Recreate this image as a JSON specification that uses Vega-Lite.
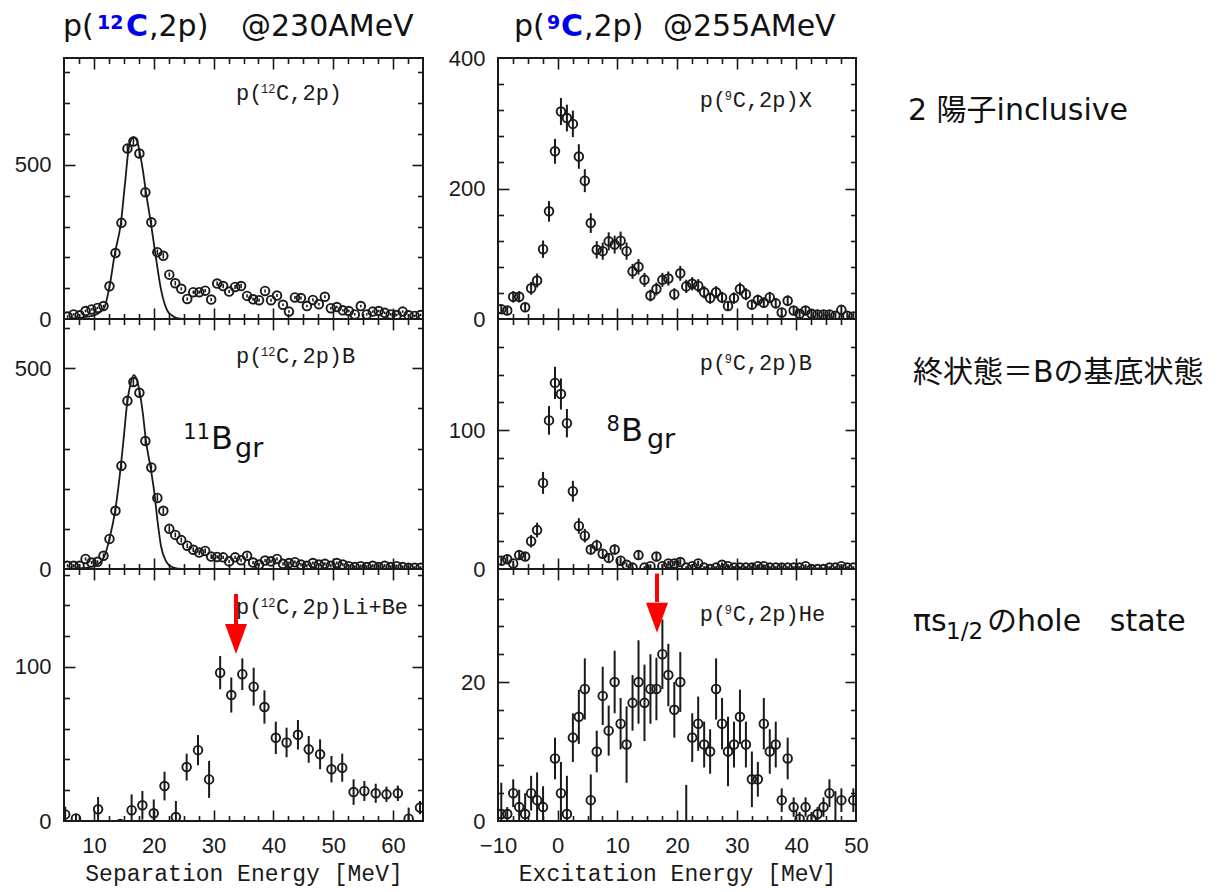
{
  "$schema": "https://vega.github.io/schema/vega-lite/v6.json",
  "background": "white",
  "padding": {"left": 13, "top": 11, "right": 5, "bottom": 5},
  "config": {
    "view": {"stroke": "#1a1a1a", "strokeWidth": 2},
    "axis": {"grid": false, "domain": false, "tickColor": "#1a1a1a", "tickWidth": 1.6, "labelColor": "#1a1a1a", "labelFont": "Liberation Sans", "labelFontSize": 22, "titleColor": "#1a1a1a"}
  },
  "datasets": {
    "tl": [
      {"e":5.6,"c":8,"err":4},{"e":6.6,"c":15,"err":4},{"e":7.6,"c":12,"err":4},{"e":8.6,"c":26,"err":4},{"e":9.6,"c":31,"err":4},
      {"e":10.6,"c":36,"err":4},{"e":11.6,"c":42,"err":4},{"e":12.6,"c":106,"err":7},{"e":13.6,"c":214,"err":9},{"e":14.6,"c":312,"err":9},
      {"e":15.6,"c":553,"err":12},{"e":16.6,"c":576,"err":12},{"e":17.6,"c":537,"err":12},{"e":18.6,"c":411,"err":12},{"e":19.6,"c":314,"err":9},
      {"e":20.6,"c":217,"err":9},{"e":21.6,"c":205,"err":9},{"e":22.6,"c":144,"err":7},{"e":23.6,"c":116,"err":7},{"e":24.6,"c":98,"err":5},
      {"e":25.6,"c":65,"err":5},{"e":26.6,"c":87,"err":5},{"e":27.6,"c":87,"err":5},{"e":28.6,"c":92,"err":5},{"e":29.6,"c":63,"err":5},
      {"e":30.6,"c":115,"err":7},{"e":31.6,"c":107,"err":7},{"e":32.6,"c":89,"err":5},{"e":33.6,"c":104,"err":7},{"e":34.6,"c":107,"err":7},
      {"e":35.6,"c":75,"err":5},{"e":36.6,"c":64,"err":5},{"e":37.6,"c":61,"err":5},{"e":38.6,"c":91,"err":5},{"e":39.6,"c":61,"err":5},
      {"e":40.6,"c":76,"err":5},{"e":41.6,"c":46,"err":4},{"e":42.6,"c":24,"err":4},{"e":43.6,"c":70,"err":5},{"e":44.6,"c":68,"err":5},
      {"e":45.6,"c":42,"err":4},{"e":46.6,"c":62,"err":5},{"e":47.6,"c":48,"err":4},{"e":48.6,"c":72,"err":5},{"e":49.6,"c":35,"err":4},
      {"e":50.6,"c":39,"err":4},{"e":51.6,"c":28,"err":4},{"e":52.6,"c":26,"err":4},{"e":53.6,"c":15,"err":4},{"e":54.6,"c":42,"err":4},
      {"e":55.6,"c":15,"err":4},{"e":56.6,"c":24,"err":4},{"e":57.6,"c":26,"err":4},{"e":58.6,"c":20,"err":4},{"e":59.6,"c":15,"err":4},
      {"e":60.6,"c":13,"err":4},{"e":61.6,"c":24,"err":4},{"e":62.6,"c":12,"err":4},{"e":63.6,"c":10,"err":4},{"e":64.6,"c":13,"err":4}
    ],
    "tlfit": [
      {"e":5,"c":0},{"e":7,"c":3},{"e":9,"c":8},{"e":10,"c":12},{"e":11,"c":22},{"e":11.75,"c":37},{"e":12.6,"c":105},
      {"e":13.5,"c":213},{"e":14.5,"c":310},{"e":15.2,"c":440},{"e":15.9,"c":563},{"e":16.65,"c":590},{"e":17.2,"c":578},
      {"e":17.6,"c":547},{"e":18.2,"c":480},{"e":18.7,"c":411},{"e":19.5,"c":314},{"e":20.4,"c":194},{"e":21.2,"c":97},
      {"e":21.8,"c":50},{"e":22.3,"c":26},{"e":23,"c":12},{"e":23.7,"c":4},{"e":25,"c":0.5},{"e":27,"c":0}
    ],
    "ml": [
      {"e":5.6,"c":8,"err":4},{"e":6.6,"c":8,"err":4},{"e":7.6,"c":8,"err":4},{"e":8.6,"c":25,"err":4},{"e":9.6,"c":16,"err":4},
      {"e":10.6,"c":18,"err":4},{"e":11.6,"c":33,"err":6},{"e":12.6,"c":75,"err":6},{"e":13.6,"c":145,"err":8},{"e":14.6,"c":257,"err":8},
      {"e":15.6,"c":419,"err":10},{"e":16.6,"c":466,"err":10},{"e":17.6,"c":439,"err":10},{"e":18.6,"c":319,"err":10},{"e":19.6,"c":253,"err":8},
      {"e":20.6,"c":177,"err":8},{"e":21.6,"c":145,"err":8},{"e":22.6,"c":100,"err":8},{"e":23.6,"c":85,"err":6},{"e":24.6,"c":72,"err":6},
      {"e":25.6,"c":58,"err":6},{"e":26.6,"c":48,"err":6},{"e":27.6,"c":41,"err":6},{"e":28.6,"c":45,"err":6},{"e":29.6,"c":31,"err":6},
      {"e":30.6,"c":30,"err":4},{"e":31.6,"c":29,"err":4},{"e":32.6,"c":19,"err":4},{"e":33.6,"c":29,"err":4},{"e":34.6,"c":22,"err":4},
      {"e":35.6,"c":33,"err":6},{"e":36.6,"c":16,"err":4},{"e":37.6,"c":11,"err":4},{"e":38.6,"c":21,"err":4},{"e":39.6,"c":19,"err":4},
      {"e":40.6,"c":25,"err":4},{"e":41.6,"c":13,"err":4},{"e":42.6,"c":15,"err":4},{"e":43.6,"c":17,"err":4},{"e":44.6,"c":11,"err":4},
      {"e":45.6,"c":8,"err":4},{"e":46.6,"c":15,"err":4},{"e":47.6,"c":11,"err":4},{"e":48.6,"c":13,"err":4},{"e":49.6,"c":8,"err":4},
      {"e":50.6,"c":15,"err":4},{"e":51.6,"c":11,"err":4},{"e":52.6,"c":7,"err":4},{"e":53.6,"c":5,"err":4},{"e":54.6,"c":7,"err":4},
      {"e":55.6,"c":5,"err":4},{"e":56.6,"c":8,"err":4},{"e":57.6,"c":5,"err":4},{"e":58.6,"c":8,"err":4},{"e":59.6,"c":5,"err":4},
      {"e":60.6,"c":7,"err":4},{"e":61.6,"c":5,"err":4},{"e":62.6,"c":3,"err":4},{"e":63.6,"c":3,"err":4},{"e":64.6,"c":3,"err":4}
    ],
    "mlfit": [
      {"e":5,"c":0},{"e":8,"c":2},{"e":10,"c":8},{"e":11,"c":16},{"e":11.7,"c":30},{"e":12.6,"c":75},{"e":13.6,"c":150},
      {"e":14.5,"c":257},{"e":15,"c":330},{"e":15.6,"c":419},{"e":16.1,"c":460},{"e":16.65,"c":483},{"e":17.2,"c":470},
      {"e":17.6,"c":445},{"e":18.2,"c":385},{"e":18.7,"c":319},{"e":19.5,"c":250},{"e":20.1,"c":190},{"e":20.66,"c":116},
      {"e":21.2,"c":58},{"e":22,"c":21},{"e":22.6,"c":9},{"e":23.2,"c":4},{"e":24,"c":1},{"e":26,"c":0}
    ],
    "bl": [
      {"e":5.2,"c":4.3,"err":5},{"e":7.0,"c":1.7,"err":3},{"e":10.7,"c":7.6,"err":8},{"e":14.4,"c":-2,"err":2},{"e":16.3,"c":7,"err":10.3},
      {"e":18.1,"c":10.2,"err":9.3},{"e":20.0,"c":5,"err":9},{"e":21.8,"c":22.7,"err":9.3},{"e":23.7,"c":2.6,"err":10.4},{"e":25.5,"c":35,"err":8.7},
      {"e":27.4,"c":46,"err":9.8},{"e":29.25,"c":27,"err":12},{"e":31.1,"c":96.3,"err":10.8},{"e":32.96,"c":81.8,"err":11.4},{"e":34.8,"c":95.3,"err":10.3},
      {"e":36.7,"c":87.2,"err":12.3},{"e":38.5,"c":74,"err":10.8},{"e":40.4,"c":54,"err":10.5},{"e":42.2,"c":51,"err":9.6},{"e":44.1,"c":56,"err":9.6},
      {"e":45.9,"c":46.5,"err":8.7},{"e":47.8,"c":43.3,"err":9.7},{"e":49.7,"c":33.6,"err":8.6},{"e":51.5,"c":34.6,"err":9.1},{"e":53.4,"c":18.8,"err":8.3},
      {"e":55.2,"c":19.5,"err":6.5},{"e":57.1,"c":18,"err":6.2},{"e":58.9,"c":17.3,"err":5},{"e":60.8,"c":18,"err":5},{"e":62.6,"c":1.5,"err":7.2},
      {"e":64.5,"c":8.7,"err":4.3}
    ],
    "tr": [
      {"e":-9.45,"c":15,"err":6.9},{"e":-8.45,"c":13,"err":6.6},{"e":-7.45,"c":34,"err":8.8},{"e":-6.45,"c":34,"err":8.8},{"e":-5.45,"c":18,"err":7.2},
      {"e":-4.45,"c":47,"err":9.9},{"e":-3.45,"c":59,"err":10.7},{"e":-2.45,"c":107,"err":13.3},{"e":-1.45,"c":165,"err":15.8},{"e":-0.45,"c":257,"err":19},
      {"e":0.55,"c":318,"err":20.8},{"e":1.55,"c":308,"err":20.5},{"e":2.55,"c":299,"err":20.3},{"e":3.55,"c":249,"err":18.8},{"e":4.55,"c":212,"err":17.6},
      {"e":5.55,"c":147,"err":15.1},{"e":6.55,"c":106,"err":13.3},{"e":7.55,"c":104,"err":13.2},{"e":8.55,"c":119,"err":13.9},{"e":9.55,"c":114,"err":13.7},
      {"e":10.55,"c":120,"err":14},{"e":11.55,"c":104,"err":13.2},{"e":12.55,"c":73,"err":11.5},{"e":13.55,"c":80,"err":11.9},{"e":14.55,"c":60,"err":10.7},
      {"e":15.55,"c":36,"err":9},{"e":16.55,"c":46,"err":9.8},{"e":17.55,"c":60,"err":10.7},{"e":18.55,"c":62,"err":10.9},{"e":19.55,"c":38,"err":9.2},
      {"e":20.55,"c":70,"err":11.4},{"e":21.55,"c":50,"err":10.1},{"e":22.55,"c":54,"err":10.3},{"e":23.55,"c":51,"err":10.1},{"e":24.55,"c":41,"err":9.4},
      {"e":25.55,"c":32,"err":8.7},{"e":26.55,"c":41,"err":9.4},{"e":27.55,"c":33,"err":8.7},{"e":28.55,"c":20,"err":7.5},{"e":29.55,"c":32,"err":8.7},
      {"e":30.55,"c":46,"err":9.8},{"e":31.55,"c":38,"err":9.2},{"e":32.55,"c":22,"err":7.7},{"e":33.55,"c":29,"err":8.4},{"e":34.55,"c":25,"err":8},
      {"e":35.55,"c":33,"err":8.7},{"e":36.55,"c":24,"err":7.9},{"e":37.55,"c":10,"err":6.2},{"e":38.55,"c":28,"err":8.3},{"e":39.55,"c":13,"err":6.6},
      {"e":40.55,"c":8,"err":5.8},{"e":41.55,"c":13,"err":6.6},{"e":42.55,"c":8,"err":5.8},{"e":43.55,"c":7,"err":5.6},{"e":44.55,"c":7,"err":5.6},
      {"e":45.55,"c":7,"err":5.6},{"e":46.55,"c":5,"err":5.2},{"e":47.55,"c":14,"err":6.7},{"e":48.55,"c":5,"err":5.2},{"e":49.55,"c":4,"err":5}
    ],
    "mr": [
      {"e":-9.45,"c":6,"err":2.4},{"e":-8.45,"c":7,"err":2.6},{"e":-7.45,"c":4,"err":2},{"e":-6.45,"c":10,"err":3.2},{"e":-5.45,"c":9,"err":3},
      {"e":-4.45,"c":20,"err":4.5},{"e":-3.45,"c":28,"err":5.3},{"e":-2.45,"c":62,"err":7.9},{"e":-1.45,"c":107,"err":10.3},{"e":-0.45,"c":134,"err":11.6},
      {"e":0.55,"c":126,"err":11.2},{"e":1.55,"c":105,"err":10.2},{"e":2.55,"c":56,"err":7.5},{"e":3.55,"c":31,"err":5.6},{"e":4.55,"c":24,"err":4.9},
      {"e":5.55,"c":14,"err":3.7},{"e":6.55,"c":17,"err":4.1},{"e":7.55,"c":11,"err":3.3},{"e":8.55,"c":8,"err":2.8},{"e":9.55,"c":14,"err":3.7},
      {"e":10.55,"c":6,"err":2.4},{"e":11.55,"c":3,"err":1.7},{"e":12.55,"c":1,"err":1},{"e":13.55,"c":10,"err":3.2},{"e":14.55,"c":1,"err":1},
      {"e":15.55,"c":2,"err":1.4},{"e":16.55,"c":9,"err":3},{"e":17.55,"c":2,"err":1.4},{"e":18.55,"c":4,"err":2},{"e":19.55,"c":4,"err":2},
      {"e":20.55,"c":5,"err":2.2},{"e":21.55,"c":1,"err":1},{"e":22.55,"c":2,"err":1.4},{"e":23.55,"c":4,"err":2},{"e":24.55,"c":1,"err":1},
      {"e":25.55,"c":0,"err":1},{"e":26.55,"c":1,"err":1},{"e":27.55,"c":3,"err":1.7},{"e":28.55,"c":2,"err":1.4},{"e":29.55,"c":1,"err":1},
      {"e":30.55,"c":1,"err":1},{"e":31.55,"c":1,"err":1},{"e":32.55,"c":1,"err":1},{"e":33.55,"c":2,"err":1.4},{"e":34.55,"c":2,"err":1.4},
      {"e":35.55,"c":1,"err":1},{"e":36.55,"c":1,"err":1},{"e":37.55,"c":1,"err":1},{"e":38.55,"c":1,"err":1},{"e":39.55,"c":1,"err":1},
      {"e":40.55,"c":1,"err":1},{"e":41.55,"c":2,"err":1.4},{"e":42.55,"c":0,"err":1},{"e":43.55,"c":0,"err":1},{"e":44.55,"c":0,"err":1},
      {"e":45.55,"c":1,"err":1},{"e":46.55,"c":1,"err":1},{"e":47.55,"c":2,"err":1.4},{"e":48.55,"c":1,"err":1},{"e":49.55,"c":1,"err":1}
    ],
    "br": [
      {"e":-9.45,"c":1,"err":4.5},{"e":-8.45,"c":1,"err":1},{"e":-7.45,"c":4,"err":2},{"e":-6.45,"c":2,"err":2.5},{"e":-5.45,"c":1,"err":3},
      {"e":-4.45,"c":4,"err":2.5},{"e":-3.45,"c":3,"err":4},{"e":-2.45,"c":2,"err":3},{"e":-0.45,"c":9,"err":3},{"e":0.55,"c":4,"err":4.5},
      {"e":1.55,"c":1,"err":5.5},{"e":2.55,"c":12,"err":3.5},{"e":3.55,"c":15,"err":3.9},{"e":4.55,"c":19,"err":4.4},{"e":5.55,"c":3,"err":3.7},
      {"e":6.55,"c":10,"err":3},{"e":7.55,"c":18,"err":4.2},{"e":8.55,"c":13,"err":3.6},{"e":9.55,"c":20,"err":4.5},{"e":10.55,"c":14,"err":3.7},
      {"e":11.55,"c":11,"err":5.5},{"e":12.55,"c":17,"err":4},{"e":13.55,"c":20,"err":6},{"e":14.55,"c":17,"err":5.5},{"e":15.55,"c":19,"err":5},
      {"e":16.55,"c":19,"err":4.5},{"e":17.55,"c":24,"err":5},{"e":18.55,"c":21,"err":4.5},{"e":19.55,"c":16,"err":4},{"e":20.55,"c":20,"err":4.3},
      {"e":21.55,"c":-1.5,"err":6.7},{"e":22.55,"c":12,"err":3.5},{"e":23.55,"c":14,"err":3.9},{"e":24.55,"c":11,"err":3.3},{"e":25.55,"c":10,"err":3.2},
      {"e":26.55,"c":19,"err":4.4},{"e":27.55,"c":14,"err":3.7},{"e":28.55,"c":10,"err":5},{"e":29.55,"c":11,"err":3.3},{"e":30.55,"c":15,"err":3.9},
      {"e":31.55,"c":11,"err":3.3},{"e":32.55,"c":6,"err":4},{"e":33.55,"c":6,"err":2.5},{"e":34.55,"c":14,"err":3.7},{"e":35.55,"c":10,"err":3.2},
      {"e":36.55,"c":11,"err":3.3},{"e":37.55,"c":3,"err":1.7},{"e":38.55,"c":9,"err":3},{"e":39.55,"c":2,"err":1.4},{"e":40.55,"c":0.3,"err":1},
      {"e":41.55,"c":2,"err":1.4},{"e":42.55,"c":0.3,"err":1},{"e":43.55,"c":1,"err":1},{"e":44.55,"c":2,"err":1.4},{"e":45.55,"c":4,"err":2},
      {"e":46.55,"c":-1.5,"err":5.8},{"e":47.55,"c":3,"err":1.7},{"e":49.55,"c":3,"err":1.7}
    ]
  },
  "bounds": "full",
  "spacing": 22,
  "hconcat": [
    {
      "bounds": "flush",
      "spacing": 0,
      "vconcat": [
        {
          "width": 359, "height": 261,
          "resolve": {"axis": {"x": "independent", "y": "independent"}},
          "layer": [
            {"data": {"name": "tl"}, "mark": {"type": "errorbar", "ticks": false, "color": "#1a1a1a", "thickness": 1.6, "clip": true},
             "encoding": {"x": {"field": "e", "type": "quantitative", "axis": null}, "y": {"field": "c", "type": "quantitative", "axis": null}, "yError": {"field": "err"}}},
            {"data": {"name": "tl"}, "mark": {"type": "point", "shape": "circle", "filled": false, "size": 74, "strokeWidth": 1.9, "color": "#1a1a1a", "opacity": 1, "clip": true},
             "encoding": {
               "x": {"field": "e", "type": "quantitative", "scale": {"domain": [5, 65], "nice": false, "zero": false}, "axis": null},
               "y": {"field": "c", "type": "quantitative", "scale": {"domain": [0, 847], "nice": false, "zero": false}, "axis": {"orient": "left", "values": [0, 500], "ticks": false, "tickSize": 0, "labelPadding": 13, "title": null}}}},
            {"data": {"name": "tl"}, "mark": {"type": "point", "opacity": 0},
             "encoding": {
               "x": {"field": "e", "type": "quantitative", "axis": {"orient": "bottom", "values": [10, 20, 30, 40, 50, 60], "labels": false, "tickSize": -11, "title": null}},
               "y": {"field": "c", "type": "quantitative", "axis": {"orient": "left", "values": [500], "labels": false, "tickSize": -11, "title": null}}}},
            {"data": {"name": "tl"}, "mark": {"type": "point", "opacity": 0},
             "encoding": {
               "x": {"field": "e", "type": "quantitative", "axis": {"orient": "bottom", "values": [7.5, 12.5, 15, 17.5, 22.5, 25, 27.5, 32.5, 35, 37.5, 42.5, 45, 47.5, 52.5, 55, 57.5, 62.5], "labels": false, "tickSize": -5.5, "title": null}},
               "y": {"field": "c", "type": "quantitative", "axis": {"orient": "left", "values": [100, 200, 300, 400, 600, 700, 800], "labels": false, "tickSize": -5.5, "title": null}}}},
            {"data": {"name": "tl"}, "mark": {"type": "point", "opacity": 0},
             "encoding": {
               "x": {"field": "e", "type": "quantitative", "axis": {"orient": "top", "values": [10, 20, 30, 40, 50, 60], "labels": false, "tickSize": -11, "title": null}},
               "y": {"field": "c", "type": "quantitative", "axis": {"orient": "right", "values": [500], "labels": false, "tickSize": -11, "title": null}}}},
            {"data": {"name": "tl"}, "mark": {"type": "point", "opacity": 0},
             "encoding": {
               "x": {"field": "e", "type": "quantitative", "axis": {"orient": "top", "values": [7.5, 12.5, 15, 17.5, 22.5, 25, 27.5, 32.5, 35, 37.5, 42.5, 45, 47.5, 52.5, 55, 57.5, 62.5], "labels": false, "tickSize": -5.5, "title": null}},
               "y": {"field": "c", "type": "quantitative", "axis": {"orient": "right", "values": [100, 200, 300, 400, 600, 700, 800], "labels": false, "tickSize": -5.5, "title": null}}}},
            {"data": {"name": "tlfit"}, "mark": {"type": "line", "color": "#1a1a1a", "strokeWidth": 1.8, "interpolate": "monotone", "clip": true},
             "encoding": {"x": {"field": "e", "type": "quantitative", "axis": null}, "y": {"field": "c", "type": "quantitative", "axis": null}}},
            {"data": {"values": [{"t": "p("}]}, "mark": {"type": "text", "font": "Liberation Mono", "fontSize": 22, "align": "left", "baseline": "alphabetic", "color": "#1a1a1a"},
             "encoding": {"x": {"datum": 33.75, "type": "quantitative", "axis": null}, "y": {"datum": 710.7, "type": "quantitative", "axis": null}, "text": {"field": "t"}}},
            {"data": {"values": [{"t": "12"}]}, "mark": {"type": "text", "font": "Liberation Mono", "fontSize": 12, "align": "left", "baseline": "alphabetic", "color": "#1a1a1a", "dx": 25, "dy": -7},
             "encoding": {"x": {"datum": 33.75, "type": "quantitative", "axis": null}, "y": {"datum": 710.7, "type": "quantitative", "axis": null}, "text": {"field": "t"}}},
            {"data": {"values": [{"t": "C,2p)"}]}, "mark": {"type": "text", "font": "Liberation Mono", "fontSize": 22, "align": "left", "baseline": "alphabetic", "color": "#1a1a1a", "dx": 40},
             "encoding": {"x": {"datum": 33.75, "type": "quantitative", "axis": null}, "y": {"datum": 710.7, "type": "quantitative", "axis": null}, "text": {"field": "t"}}},
            {"data": {"values": [{"t": "p("}]}, "mark": {"type": "text", "font": "DejaVu Sans", "fontSize": 30, "align": "left", "baseline": "alphabetic", "color": "#111111", "dx": -1, "dy": -22},
             "encoding": {"x": {"datum": 5, "type": "quantitative", "axis": null}, "y": {"datum": 847, "type": "quantitative", "axis": null}, "text": {"field": "t"}}},
            {"data": {"values": [{"t": "12"}]}, "mark": {"type": "text", "font": "DejaVu Sans", "fontSize": 19, "fontWeight": "bold", "align": "left", "baseline": "alphabetic", "color": "#0000ee", "dx": 33, "dy": -29},
             "encoding": {"x": {"datum": 5, "type": "quantitative", "axis": null}, "y": {"datum": 847, "type": "quantitative", "axis": null}, "text": {"field": "t"}}},
            {"data": {"values": [{"t": "C"}]}, "mark": {"type": "text", "font": "DejaVu Sans", "fontSize": 30, "fontWeight": "bold", "align": "left", "baseline": "alphabetic", "color": "#0000ee", "dx": 62, "dy": -22},
             "encoding": {"x": {"datum": 5, "type": "quantitative", "axis": null}, "y": {"datum": 847, "type": "quantitative", "axis": null}, "text": {"field": "t"}}},
            {"data": {"values": [{"t": ",2p)"}]}, "mark": {"type": "text", "font": "DejaVu Sans", "fontSize": 30, "align": "left", "baseline": "alphabetic", "color": "#111111", "dx": 85, "dy": -22},
             "encoding": {"x": {"datum": 5, "type": "quantitative", "axis": null}, "y": {"datum": 847, "type": "quantitative", "axis": null}, "text": {"field": "t"}}},
            {"data": {"values": [{"t": "@230AMeV"}]}, "mark": {"type": "text", "font": "DejaVu Sans", "fontSize": 30, "align": "left", "baseline": "alphabetic", "color": "#111111", "dx": 177, "dy": -22},
             "encoding": {"x": {"datum": 5, "type": "quantitative", "axis": null}, "y": {"datum": 847, "type": "quantitative", "axis": null}, "text": {"field": "t"}}}
          ]
        },
        {
          "width": 359, "height": 250,
          "resolve": {"axis": {"x": "independent", "y": "independent"}},
          "layer": [
            {"data": {"name": "ml"}, "mark": {"type": "errorbar", "ticks": false, "color": "#1a1a1a", "thickness": 1.6, "clip": true},
             "encoding": {"x": {"field": "e", "type": "quantitative", "axis": null}, "y": {"field": "c", "type": "quantitative", "axis": null}, "yError": {"field": "err"}}},
            {"data": {"name": "ml"}, "mark": {"type": "point", "shape": "circle", "filled": false, "size": 74, "strokeWidth": 1.9, "color": "#1a1a1a", "opacity": 1, "clip": true},
             "encoding": {
               "x": {"field": "e", "type": "quantitative", "scale": {"domain": [5, 65], "nice": false, "zero": false}, "axis": null},
               "y": {"field": "c", "type": "quantitative", "scale": {"domain": [0, 623], "nice": false, "zero": false}, "axis": {"orient": "left", "values": [0, 500], "ticks": false, "tickSize": 0, "labelPadding": 13, "title": null}}}},
            {"data": {"name": "ml"}, "mark": {"type": "point", "opacity": 0},
             "encoding": {
               "x": {"field": "e", "type": "quantitative", "axis": {"orient": "bottom", "values": [10, 20, 30, 40, 50, 60], "labels": false, "tickSize": -11, "title": null}},
               "y": {"field": "c", "type": "quantitative", "axis": {"orient": "left", "values": [500], "labels": false, "tickSize": -11, "title": null}}}},
            {"data": {"name": "ml"}, "mark": {"type": "point", "opacity": 0},
             "encoding": {
               "x": {"field": "e", "type": "quantitative", "axis": {"orient": "bottom", "values": [7.5, 12.5, 15, 17.5, 22.5, 25, 27.5, 32.5, 35, 37.5, 42.5, 45, 47.5, 52.5, 55, 57.5, 62.5], "labels": false, "tickSize": -5.5, "title": null}},
               "y": {"field": "c", "type": "quantitative", "axis": {"orient": "left", "values": [100, 200, 300, 400, 600], "labels": false, "tickSize": -5.5, "title": null}}}},
            {"data": {"name": "ml"}, "mark": {"type": "point", "opacity": 0},
             "encoding": {
               "x": {"field": "e", "type": "quantitative", "axis": {"orient": "top", "values": [10, 20, 30, 40, 50, 60], "labels": false, "tickSize": -11, "title": null}},
               "y": {"field": "c", "type": "quantitative", "axis": {"orient": "right", "values": [500], "labels": false, "tickSize": -11, "title": null}}}},
            {"data": {"name": "ml"}, "mark": {"type": "point", "opacity": 0},
             "encoding": {
               "x": {"field": "e", "type": "quantitative", "axis": {"orient": "top", "values": [7.5, 12.5, 15, 17.5, 22.5, 25, 27.5, 32.5, 35, 37.5, 42.5, 45, 47.5, 52.5, 55, 57.5, 62.5], "labels": false, "tickSize": -5.5, "title": null}},
               "y": {"field": "c", "type": "quantitative", "axis": {"orient": "right", "values": [100, 200, 300, 400, 600], "labels": false, "tickSize": -5.5, "title": null}}}},
            {"data": {"name": "mlfit"}, "mark": {"type": "line", "color": "#1a1a1a", "strokeWidth": 1.8, "interpolate": "monotone", "clip": true},
             "encoding": {"x": {"field": "e", "type": "quantitative", "axis": null}, "y": {"field": "c", "type": "quantitative", "axis": null}}},
            {"data": {"values": [{"t": "p("}]}, "mark": {"type": "text", "font": "Liberation Mono", "fontSize": 22, "align": "left", "baseline": "alphabetic", "color": "#1a1a1a"},
             "encoding": {"x": {"datum": 33.75, "type": "quantitative", "axis": null}, "y": {"datum": 514, "type": "quantitative", "axis": null}, "text": {"field": "t"}}},
            {"data": {"values": [{"t": "12"}]}, "mark": {"type": "text", "font": "Liberation Mono", "fontSize": 12, "align": "left", "baseline": "alphabetic", "color": "#1a1a1a", "dx": 25, "dy": -7},
             "encoding": {"x": {"datum": 33.75, "type": "quantitative", "axis": null}, "y": {"datum": 514, "type": "quantitative", "axis": null}, "text": {"field": "t"}}},
            {"data": {"values": [{"t": "C,2p)B"}]}, "mark": {"type": "text", "font": "Liberation Mono", "fontSize": 22, "align": "left", "baseline": "alphabetic", "color": "#1a1a1a", "dx": 40},
             "encoding": {"x": {"datum": 33.75, "type": "quantitative", "axis": null}, "y": {"datum": 514, "type": "quantitative", "axis": null}, "text": {"field": "t"}}},
            {"data": {"values": [{"t": "B"}]}, "mark": {"type": "text", "font": "DejaVu Sans", "fontSize": 32, "align": "left", "baseline": "alphabetic", "color": "#111111"},
             "encoding": {"x": {"datum": 29.57, "type": "quantitative", "axis": null}, "y": {"datum": 299, "type": "quantitative", "axis": null}, "text": {"field": "t"}}},
            {"data": {"values": [{"t": "11"}]}, "mark": {"type": "text", "font": "DejaVu Sans", "fontSize": 21, "align": "right", "baseline": "alphabetic", "color": "#111111", "dx": -1, "dy": -10},
             "encoding": {"x": {"datum": 29.57, "type": "quantitative", "axis": null}, "y": {"datum": 299, "type": "quantitative", "axis": null}, "text": {"field": "t"}}},
            {"data": {"values": [{"t": "gr"}]}, "mark": {"type": "text", "font": "DejaVu Sans", "fontSize": 27, "align": "left", "baseline": "alphabetic", "color": "#111111", "dx": 24, "dy": 8},
             "encoding": {"x": {"datum": 29.57, "type": "quantitative", "axis": null}, "y": {"datum": 299, "type": "quantitative", "axis": null}, "text": {"field": "t"}}}
          ]
        },
        {
          "width": 359, "height": 252,
          "resolve": {"axis": {"x": "independent", "y": "independent"}},
          "layer": [
            {"data": {"name": "bl"}, "mark": {"type": "errorbar", "ticks": false, "color": "#1a1a1a", "thickness": 2, "clip": true},
             "encoding": {"x": {"field": "e", "type": "quantitative", "axis": null}, "y": {"field": "c", "type": "quantitative", "axis": null}, "yError": {"field": "err"}}},
            {"data": {"name": "bl"}, "mark": {"type": "point", "shape": "circle", "filled": false, "size": 74, "strokeWidth": 1.9, "color": "#1a1a1a", "opacity": 1, "clip": true},
             "encoding": {
               "x": {"field": "e", "type": "quantitative", "scale": {"domain": [5, 65], "nice": false, "zero": false}, "axis": {"orient": "bottom", "values": [10, 20, 30, 40, 50, 60], "ticks": false, "tickSize": 0, "labelPadding": 14, "labelFlush": false, "labelOverlap": false, "title": "Separation Energy [MeV]", "titleFont": "Liberation Mono", "titleFontSize": 23, "titleFontWeight": "normal", "titlePadding": 6}},
               "y": {"field": "c", "type": "quantitative", "scale": {"domain": [0, 163.6], "nice": false, "zero": false}, "axis": {"orient": "left", "values": [0, 100], "ticks": false, "tickSize": 0, "labelPadding": 13, "title": null}}}},
            {"data": {"name": "bl"}, "mark": {"type": "point", "opacity": 0},
             "encoding": {
               "x": {"field": "e", "type": "quantitative", "axis": {"orient": "bottom", "values": [10, 20, 30, 40, 50, 60], "labels": false, "tickSize": -11, "title": null}},
               "y": {"field": "c", "type": "quantitative", "axis": {"orient": "left", "values": [100], "labels": false, "tickSize": -11, "title": null}}}},
            {"data": {"name": "bl"}, "mark": {"type": "point", "opacity": 0},
             "encoding": {
               "x": {"field": "e", "type": "quantitative", "axis": {"orient": "bottom", "values": [7.5, 12.5, 15, 17.5, 22.5, 25, 27.5, 32.5, 35, 37.5, 42.5, 45, 47.5, 52.5, 55, 57.5, 62.5], "labels": false, "tickSize": -5.5, "title": null}},
               "y": {"field": "c", "type": "quantitative", "axis": {"orient": "left", "values": [20, 40, 60, 80, 120, 140, 160], "labels": false, "tickSize": -5.5, "title": null}}}},
            {"data": {"name": "bl"}, "mark": {"type": "point", "opacity": 0},
             "encoding": {
               "x": {"field": "e", "type": "quantitative", "axis": {"orient": "top", "values": [10, 20, 30, 40, 50, 60], "labels": false, "tickSize": -11, "title": null}},
               "y": {"field": "c", "type": "quantitative", "axis": {"orient": "right", "values": [100], "labels": false, "tickSize": -11, "title": null}}}},
            {"data": {"name": "bl"}, "mark": {"type": "point", "opacity": 0},
             "encoding": {
               "x": {"field": "e", "type": "quantitative", "axis": {"orient": "top", "values": [7.5, 12.5, 15, 17.5, 22.5, 25, 27.5, 32.5, 35, 37.5, 42.5, 45, 47.5, 52.5, 55, 57.5, 62.5], "labels": false, "tickSize": -5.5, "title": null}},
               "y": {"field": "c", "type": "quantitative", "axis": {"orient": "right", "values": [20, 40, 60, 80, 120, 140, 160], "labels": false, "tickSize": -5.5, "title": null}}}},
            {"data": {"values": [{"t": "p("}]}, "mark": {"type": "text", "font": "Liberation Mono", "fontSize": 22, "align": "left", "baseline": "alphabetic", "color": "#1a1a1a"},
             "encoding": {"x": {"datum": 33.75, "type": "quantitative", "axis": null}, "y": {"datum": 134.6, "type": "quantitative", "axis": null}, "text": {"field": "t"}}},
            {"data": {"values": [{"t": "12"}]}, "mark": {"type": "text", "font": "Liberation Mono", "fontSize": 12, "align": "left", "baseline": "alphabetic", "color": "#1a1a1a", "dx": 25, "dy": -7},
             "encoding": {"x": {"datum": 33.75, "type": "quantitative", "axis": null}, "y": {"datum": 134.6, "type": "quantitative", "axis": null}, "text": {"field": "t"}}},
            {"data": {"values": [{"t": "C,2p)Li+Be"}]}, "mark": {"type": "text", "font": "Liberation Mono", "fontSize": 22, "align": "left", "baseline": "alphabetic", "color": "#1a1a1a", "dx": 40},
             "encoding": {"x": {"datum": 33.75, "type": "quantitative", "axis": null}, "y": {"datum": 134.6, "type": "quantitative", "axis": null}, "text": {"field": "t"}}},
            {"data": {"values": [{"t": "arrow"}]}, "mark": {"type": "rule", "color": "#ff0000", "strokeWidth": 4},
             "encoding": {"x": {"datum": 33.75, "type": "quantitative", "axis": null}, "y": {"datum": 147.4, "type": "quantitative", "axis": null}, "y2": {"datum": 121}}},
            {"data": {"values": [{"t": "arrow"}]}, "mark": {"type": "point", "shape": "M-1,-1.36L1,-1.36L0,1.36Z", "filled": true, "opacity": 1, "color": "#ff0000", "size": 484, "strokeWidth": 0},
             "encoding": {"x": {"datum": 33.75, "type": "quantitative", "axis": null}, "y": {"datum": 118.2, "type": "quantitative", "axis": null}}}
          ]
        }
      ]
    },
    {
      "bounds": "flush",
      "spacing": 0,
      "vconcat": [
        {
          "width": 358, "height": 261,
          "resolve": {"axis": {"x": "independent", "y": "independent"}},
          "layer": [
            {"data": {"name": "tr"}, "mark": {"type": "errorbar", "ticks": false, "color": "#1a1a1a", "thickness": 2, "clip": true},
             "encoding": {"x": {"field": "e", "type": "quantitative", "axis": null}, "y": {"field": "c", "type": "quantitative", "axis": null}, "yError": {"field": "err"}}},
            {"data": {"name": "tr"}, "mark": {"type": "point", "shape": "circle", "filled": false, "size": 74, "strokeWidth": 1.9, "color": "#1a1a1a", "opacity": 1, "clip": true},
             "encoding": {
               "x": {"field": "e", "type": "quantitative", "scale": {"domain": [-10, 50], "nice": false, "zero": false}, "axis": null},
               "y": {"field": "c", "type": "quantitative", "scale": {"domain": [0, 400], "nice": false, "zero": false}, "axis": {"orient": "left", "values": [0, 200, 400], "ticks": false, "tickSize": 0, "labelPadding": 13, "title": null}}}},
            {"data": {"name": "tr"}, "mark": {"type": "point", "opacity": 0},
             "encoding": {
               "x": {"field": "e", "type": "quantitative", "axis": {"orient": "bottom", "values": [0, 10, 20, 30, 40], "labels": false, "tickSize": -11, "title": null}},
               "y": {"field": "c", "type": "quantitative", "axis": {"orient": "left", "values": [200], "labels": false, "tickSize": -11, "title": null}}}},
            {"data": {"name": "tr"}, "mark": {"type": "point", "opacity": 0},
             "encoding": {
               "x": {"field": "e", "type": "quantitative", "axis": {"orient": "bottom", "values": [-7.5, -5, -2.5, 2.5, 5, 7.5, 12.5, 15, 17.5, 22.5, 25, 27.5, 32.5, 35, 37.5, 42.5, 45, 47.5], "labels": false, "tickSize": -5.5, "title": null}},
               "y": {"field": "c", "type": "quantitative", "axis": {"orient": "left", "values": [40, 80, 120, 160, 240, 280, 320, 360], "labels": false, "tickSize": -5.5, "title": null}}}},
            {"data": {"name": "tr"}, "mark": {"type": "point", "opacity": 0},
             "encoding": {
               "x": {"field": "e", "type": "quantitative", "axis": {"orient": "top", "values": [0, 10, 20, 30, 40], "labels": false, "tickSize": -11, "title": null}},
               "y": {"field": "c", "type": "quantitative", "axis": {"orient": "right", "values": [200], "labels": false, "tickSize": -11, "title": null}}}},
            {"data": {"name": "tr"}, "mark": {"type": "point", "opacity": 0},
             "encoding": {
               "x": {"field": "e", "type": "quantitative", "axis": {"orient": "top", "values": [-7.5, -5, -2.5, 2.5, 5, 7.5, 12.5, 15, 17.5, 22.5, 25, 27.5, 32.5, 35, 37.5, 42.5, 45, 47.5], "labels": false, "tickSize": -5.5, "title": null}},
               "y": {"field": "c", "type": "quantitative", "axis": {"orient": "right", "values": [40, 80, 120, 160, 240, 280, 320, 360], "labels": false, "tickSize": -5.5, "title": null}}}},
            {"data": {"values": [{"t": "p("}]}, "mark": {"type": "text", "font": "Liberation Mono", "fontSize": 22, "align": "left", "baseline": "alphabetic", "color": "#1a1a1a"},
             "encoding": {"x": {"datum": 23.8, "type": "quantitative", "axis": null}, "y": {"datum": 324.9, "type": "quantitative", "axis": null}, "text": {"field": "t"}}},
            {"data": {"values": [{"t": "9"}]}, "mark": {"type": "text", "font": "Liberation Mono", "fontSize": 12, "align": "left", "baseline": "alphabetic", "color": "#1a1a1a", "dx": 25, "dy": -7},
             "encoding": {"x": {"datum": 23.8, "type": "quantitative", "axis": null}, "y": {"datum": 324.9, "type": "quantitative", "axis": null}, "text": {"field": "t"}}},
            {"data": {"values": [{"t": "C,2p)X"}]}, "mark": {"type": "text", "font": "Liberation Mono", "fontSize": 22, "align": "left", "baseline": "alphabetic", "color": "#1a1a1a", "dx": 33},
             "encoding": {"x": {"datum": 23.8, "type": "quantitative", "axis": null}, "y": {"datum": 324.9, "type": "quantitative", "axis": null}, "text": {"field": "t"}}},
            {"data": {"values": [{"t": "p("}]}, "mark": {"type": "text", "font": "DejaVu Sans", "fontSize": 30, "align": "left", "baseline": "alphabetic", "color": "#111111", "dx": 16, "dy": -22},
             "encoding": {"x": {"datum": -10, "type": "quantitative", "axis": null}, "y": {"datum": 400, "type": "quantitative", "axis": null}, "text": {"field": "t"}}},
            {"data": {"values": [{"t": "9"}]}, "mark": {"type": "text", "font": "DejaVu Sans", "fontSize": 19, "fontWeight": "bold", "align": "left", "baseline": "alphabetic", "color": "#0000ee", "dx": 49, "dy": -29},
             "encoding": {"x": {"datum": -10, "type": "quantitative", "axis": null}, "y": {"datum": 400, "type": "quantitative", "axis": null}, "text": {"field": "t"}}},
            {"data": {"values": [{"t": "C"}]}, "mark": {"type": "text", "font": "DejaVu Sans", "fontSize": 30, "fontWeight": "bold", "align": "left", "baseline": "alphabetic", "color": "#0000ee", "dx": 63, "dy": -22},
             "encoding": {"x": {"datum": -10, "type": "quantitative", "axis": null}, "y": {"datum": 400, "type": "quantitative", "axis": null}, "text": {"field": "t"}}},
            {"data": {"values": [{"t": ",2p)"}]}, "mark": {"type": "text", "font": "DejaVu Sans", "fontSize": 30, "align": "left", "baseline": "alphabetic", "color": "#111111", "dx": 86, "dy": -22},
             "encoding": {"x": {"datum": -10, "type": "quantitative", "axis": null}, "y": {"datum": 400, "type": "quantitative", "axis": null}, "text": {"field": "t"}}},
            {"data": {"values": [{"t": "@255AMeV"}]}, "mark": {"type": "text", "font": "DejaVu Sans", "fontSize": 30, "align": "left", "baseline": "alphabetic", "color": "#111111", "dx": 165, "dy": -22},
             "encoding": {"x": {"datum": -10, "type": "quantitative", "axis": null}, "y": {"datum": 400, "type": "quantitative", "axis": null}, "text": {"field": "t"}}},
            {"data": {"values": [{"t": "2 陽子inclusive"}]}, "mark": {"type": "text", "font": "DejaVu Sans, Noto Sans CJK JP", "fontSize": 30, "align": "left", "baseline": "alphabetic", "color": "#111111", "dx": 52},
             "encoding": {"x": {"datum": 50, "type": "quantitative", "axis": null}, "y": {"datum": 305, "type": "quantitative", "axis": null}, "text": {"field": "t"}}}
          ]
        },
        {
          "width": 358, "height": 250,
          "resolve": {"axis": {"x": "independent", "y": "independent"}},
          "layer": [
            {"data": {"name": "mr"}, "mark": {"type": "errorbar", "ticks": false, "color": "#1a1a1a", "thickness": 2, "clip": true},
             "encoding": {"x": {"field": "e", "type": "quantitative", "axis": null}, "y": {"field": "c", "type": "quantitative", "axis": null}, "yError": {"field": "err"}}},
            {"data": {"name": "mr"}, "mark": {"type": "point", "shape": "circle", "filled": false, "size": 74, "strokeWidth": 1.9, "color": "#1a1a1a", "opacity": 1, "clip": true},
             "encoding": {
               "x": {"field": "e", "type": "quantitative", "scale": {"domain": [-10, 50], "nice": false, "zero": false}, "axis": null},
               "y": {"field": "c", "type": "quantitative", "scale": {"domain": [0, 180], "nice": false, "zero": false}, "axis": {"orient": "left", "values": [0, 100], "ticks": false, "tickSize": 0, "labelPadding": 13, "title": null}}}},
            {"data": {"name": "mr"}, "mark": {"type": "point", "opacity": 0},
             "encoding": {
               "x": {"field": "e", "type": "quantitative", "axis": {"orient": "bottom", "values": [0, 10, 20, 30, 40], "labels": false, "tickSize": -11, "title": null}},
               "y": {"field": "c", "type": "quantitative", "axis": {"orient": "left", "values": [100], "labels": false, "tickSize": -11, "title": null}}}},
            {"data": {"name": "mr"}, "mark": {"type": "point", "opacity": 0},
             "encoding": {
               "x": {"field": "e", "type": "quantitative", "axis": {"orient": "bottom", "values": [-7.5, -5, -2.5, 2.5, 5, 7.5, 12.5, 15, 17.5, 22.5, 25, 27.5, 32.5, 35, 37.5, 42.5, 45, 47.5], "labels": false, "tickSize": -5.5, "title": null}},
               "y": {"field": "c", "type": "quantitative", "axis": {"orient": "left", "values": [20, 40, 60, 80, 120, 140, 160], "labels": false, "tickSize": -5.5, "title": null}}}},
            {"data": {"name": "mr"}, "mark": {"type": "point", "opacity": 0},
             "encoding": {
               "x": {"field": "e", "type": "quantitative", "axis": {"orient": "top", "values": [0, 10, 20, 30, 40], "labels": false, "tickSize": -11, "title": null}},
               "y": {"field": "c", "type": "quantitative", "axis": {"orient": "right", "values": [100], "labels": false, "tickSize": -11, "title": null}}}},
            {"data": {"name": "mr"}, "mark": {"type": "point", "opacity": 0},
             "encoding": {
               "x": {"field": "e", "type": "quantitative", "axis": {"orient": "top", "values": [-7.5, -5, -2.5, 2.5, 5, 7.5, 12.5, 15, 17.5, 22.5, 25, 27.5, 32.5, 35, 37.5, 42.5, 45, 47.5], "labels": false, "tickSize": -5.5, "title": null}},
               "y": {"field": "c", "type": "quantitative", "axis": {"orient": "right", "values": [20, 40, 60, 80, 120, 140, 160], "labels": false, "tickSize": -5.5, "title": null}}}},
            {"data": {"values": [{"t": "p("}]}, "mark": {"type": "text", "font": "Liberation Mono", "fontSize": 22, "align": "left", "baseline": "alphabetic", "color": "#1a1a1a"},
             "encoding": {"x": {"datum": 23.8, "type": "quantitative", "axis": null}, "y": {"datum": 143.3, "type": "quantitative", "axis": null}, "text": {"field": "t"}}},
            {"data": {"values": [{"t": "9"}]}, "mark": {"type": "text", "font": "Liberation Mono", "fontSize": 12, "align": "left", "baseline": "alphabetic", "color": "#1a1a1a", "dx": 25, "dy": -7},
             "encoding": {"x": {"datum": 23.8, "type": "quantitative", "axis": null}, "y": {"datum": 143.3, "type": "quantitative", "axis": null}, "text": {"field": "t"}}},
            {"data": {"values": [{"t": "C,2p)B"}]}, "mark": {"type": "text", "font": "Liberation Mono", "fontSize": 22, "align": "left", "baseline": "alphabetic", "color": "#1a1a1a", "dx": 33},
             "encoding": {"x": {"datum": 23.8, "type": "quantitative", "axis": null}, "y": {"datum": 143.3, "type": "quantitative", "axis": null}, "text": {"field": "t"}}},
            {"data": {"values": [{"t": "B"}]}, "mark": {"type": "text", "font": "DejaVu Sans", "fontSize": 32, "align": "left", "baseline": "alphabetic", "color": "#111111"},
             "encoding": {"x": {"datum": 10.61, "type": "quantitative", "axis": null}, "y": {"datum": 92.2, "type": "quantitative", "axis": null}, "text": {"field": "t"}}},
            {"data": {"values": [{"t": "8"}]}, "mark": {"type": "text", "font": "DejaVu Sans", "fontSize": 21, "align": "right", "baseline": "alphabetic", "color": "#111111", "dx": -1, "dy": -10},
             "encoding": {"x": {"datum": 10.61, "type": "quantitative", "axis": null}, "y": {"datum": 92.2, "type": "quantitative", "axis": null}, "text": {"field": "t"}}},
            {"data": {"values": [{"t": "gr"}]}, "mark": {"type": "text", "font": "DejaVu Sans", "fontSize": 27, "align": "left", "baseline": "alphabetic", "color": "#111111", "dx": 26, "dy": 7},
             "encoding": {"x": {"datum": 10.61, "type": "quantitative", "axis": null}, "y": {"datum": 92.2, "type": "quantitative", "axis": null}, "text": {"field": "t"}}},
            {"data": {"values": [{"t": "終状態＝Bの基底状態"}]}, "mark": {"type": "text", "font": "DejaVu Sans, Noto Sans CJK JP", "fontSize": 30, "align": "left", "baseline": "alphabetic", "color": "#111111", "dx": 57},
             "encoding": {"x": {"datum": 50, "type": "quantitative", "axis": null}, "y": {"datum": 134.6, "type": "quantitative", "axis": null}, "text": {"field": "t"}}}
          ]
        },
        {
          "width": 358, "height": 252,
          "resolve": {"axis": {"x": "independent", "y": "independent"}},
          "layer": [
            {"data": {"name": "br"}, "mark": {"type": "errorbar", "ticks": false, "color": "#1a1a1a", "thickness": 2, "clip": true},
             "encoding": {"x": {"field": "e", "type": "quantitative", "axis": null}, "y": {"field": "c", "type": "quantitative", "axis": null}, "yError": {"field": "err"}}},
            {"data": {"name": "br"}, "mark": {"type": "point", "shape": "circle", "filled": false, "size": 74, "strokeWidth": 1.9, "color": "#1a1a1a", "opacity": 1, "clip": true},
             "encoding": {
               "x": {"field": "e", "type": "quantitative", "scale": {"domain": [-10, 50], "nice": false, "zero": false}, "axis": {"orient": "bottom", "values": [-10, 0, 10, 20, 30, 40, 50], "ticks": false, "tickSize": 0, "labelPadding": 14, "labelFlush": false, "labelOverlap": false, "title": "Excitation Energy [MeV]", "titleFont": "Liberation Mono", "titleFontSize": 23, "titleFontWeight": "normal", "titlePadding": 6}},
               "y": {"field": "c", "type": "quantitative", "scale": {"domain": [0, 36.26], "nice": false, "zero": false}, "axis": {"orient": "left", "values": [0, 20], "ticks": false, "tickSize": 0, "labelPadding": 13, "title": null}}}},
            {"data": {"name": "br"}, "mark": {"type": "point", "opacity": 0},
             "encoding": {
               "x": {"field": "e", "type": "quantitative", "axis": {"orient": "bottom", "values": [0, 10, 20, 30, 40], "labels": false, "tickSize": -11, "title": null}},
               "y": {"field": "c", "type": "quantitative", "axis": {"orient": "left", "values": [20], "labels": false, "tickSize": -11, "title": null}}}},
            {"data": {"name": "br"}, "mark": {"type": "point", "opacity": 0},
             "encoding": {
               "x": {"field": "e", "type": "quantitative", "axis": {"orient": "bottom", "values": [-7.5, -5, -2.5, 2.5, 5, 7.5, 12.5, 15, 17.5, 22.5, 25, 27.5, 32.5, 35, 37.5, 42.5, 45, 47.5], "labels": false, "tickSize": -5.5, "title": null}},
               "y": {"field": "c", "type": "quantitative", "axis": {"orient": "left", "values": [4, 8, 12, 16, 24, 28, 32], "labels": false, "tickSize": -5.5, "title": null}}}},
            {"data": {"name": "br"}, "mark": {"type": "point", "opacity": 0},
             "encoding": {
               "x": {"field": "e", "type": "quantitative", "axis": {"orient": "top", "values": [0, 10, 20, 30, 40], "labels": false, "tickSize": -11, "title": null}},
               "y": {"field": "c", "type": "quantitative", "axis": {"orient": "right", "values": [20], "labels": false, "tickSize": -11, "title": null}}}},
            {"data": {"name": "br"}, "mark": {"type": "point", "opacity": 0},
             "encoding": {
               "x": {"field": "e", "type": "quantitative", "axis": {"orient": "top", "values": [-7.5, -5, -2.5, 2.5, 5, 7.5, 12.5, 15, 17.5, 22.5, 25, 27.5, 32.5, 35, 37.5, 42.5, 45, 47.5], "labels": false, "tickSize": -5.5, "title": null}},
               "y": {"field": "c", "type": "quantitative", "axis": {"orient": "right", "values": [4, 8, 12, 16, 24, 28, 32], "labels": false, "tickSize": -5.5, "title": null}}}},
            {"data": {"values": [{"t": "p("}]}, "mark": {"type": "text", "font": "Liberation Mono", "fontSize": 22, "align": "left", "baseline": "alphabetic", "color": "#1a1a1a"},
             "encoding": {"x": {"datum": 23.8, "type": "quantitative", "axis": null}, "y": {"datum": 28.8, "type": "quantitative", "axis": null}, "text": {"field": "t"}}},
            {"data": {"values": [{"t": "9"}]}, "mark": {"type": "text", "font": "Liberation Mono", "fontSize": 12, "align": "left", "baseline": "alphabetic", "color": "#1a1a1a", "dx": 25, "dy": -7},
             "encoding": {"x": {"datum": 23.8, "type": "quantitative", "axis": null}, "y": {"datum": 28.8, "type": "quantitative", "axis": null}, "text": {"field": "t"}}},
            {"data": {"values": [{"t": "C,2p)He"}]}, "mark": {"type": "text", "font": "Liberation Mono", "fontSize": 22, "align": "left", "baseline": "alphabetic", "color": "#1a1a1a", "dx": 33},
             "encoding": {"x": {"datum": 23.8, "type": "quantitative", "axis": null}, "y": {"datum": 28.8, "type": "quantitative", "axis": null}, "text": {"field": "t"}}},
            {"data": {"values": [{"t": "arrow"}]}, "mark": {"type": "rule", "color": "#ff0000", "strokeWidth": 4},
             "encoding": {"x": {"datum": 16.65, "type": "quantitative", "axis": null}, "y": {"datum": 35.6, "type": "quantitative", "axis": null}, "y2": {"datum": 31.5}}},
            {"data": {"values": [{"t": "arrow"}]}, "mark": {"type": "point", "shape": "M-1,-1.36L1,-1.36L0,1.36Z", "filled": true, "opacity": 1, "color": "#ff0000", "size": 484, "strokeWidth": 0},
             "encoding": {"x": {"datum": 16.65, "type": "quantitative", "axis": null}, "y": {"datum": 29.25, "type": "quantitative", "axis": null}}},
            {"data": {"values": [{"t": "πs"}]}, "mark": {"type": "text", "font": "DejaVu Sans, Noto Sans CJK JP", "fontSize": 30, "align": "left", "baseline": "alphabetic", "color": "#111111", "dx": 57},
             "encoding": {"x": {"datum": 50, "type": "quantitative", "axis": null}, "y": {"datum": 27.34, "type": "quantitative", "axis": null}, "text": {"field": "t"}}},
            {"data": {"values": [{"t": "1/2"}]}, "mark": {"type": "text", "font": "DejaVu Sans", "fontSize": 23, "align": "left", "baseline": "alphabetic", "color": "#111111", "dx": 90, "dy": 8},
             "encoding": {"x": {"datum": 50, "type": "quantitative", "axis": null}, "y": {"datum": 27.34, "type": "quantitative", "axis": null}, "text": {"field": "t"}}},
            {"data": {"values": [{"t": "のhole\u00a0\u00a0\u00a0state"}]}, "mark": {"type": "text", "font": "DejaVu Sans, Noto Sans CJK JP", "fontSize": 30, "align": "left", "baseline": "alphabetic", "color": "#111111", "dx": 131},
             "encoding": {"x": {"datum": 50, "type": "quantitative", "axis": null}, "y": {"datum": 27.34, "type": "quantitative", "axis": null}, "text": {"field": "t"}}}
          ]
        }
      ]
    }
  ]
}
